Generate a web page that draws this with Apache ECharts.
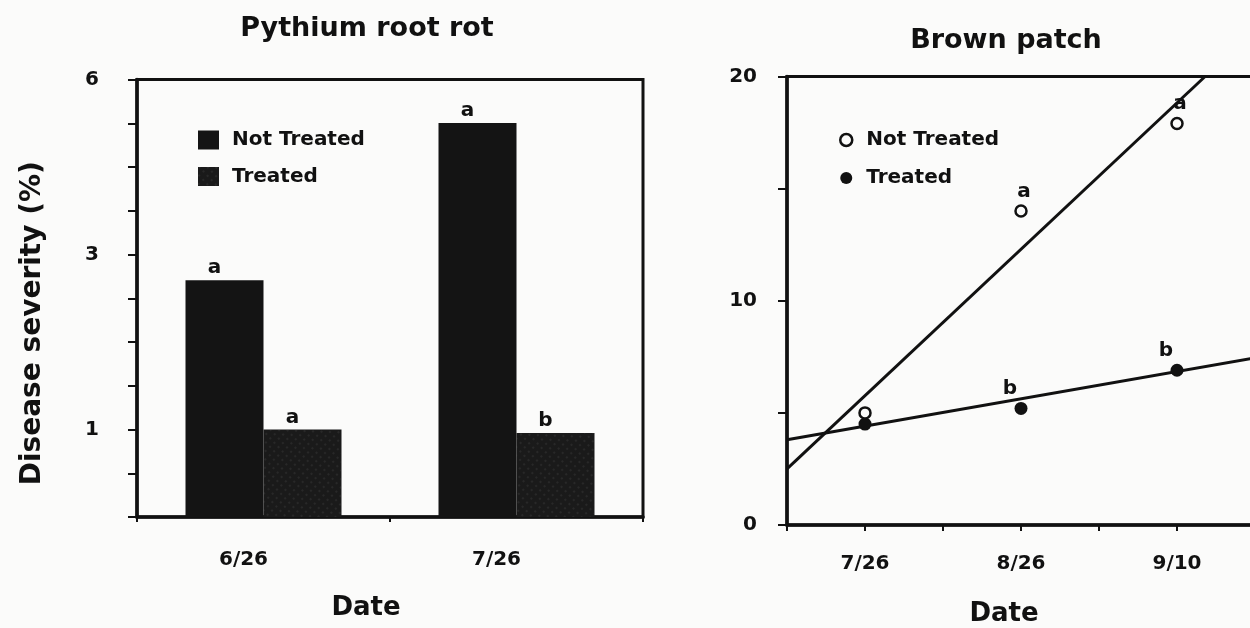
<!DOCTYPE html>
<html>
<head>
<meta charset="utf-8">
<script src="https://cdn.jsdelivr.net/npm/echarts@6/dist/echarts.min.js"></script>
<style>
  html, body { margin: 0; padding: 0; background: #fbfbfa; }
  #chart { width: 1250px; height: 628px; }
</style>
</head>
<body>
<div id="chart"></div>
<script>
// ---------- Data: Pythium root rot (bar chart, disease severity %) ----------
const pythiumDates = ['6/26', '7/26'];
const pythiumNotTreated = [2.64, 5.18];
const pythiumTreated = [1.0, 0.97];
const pythiumSigNotTreated = ['a', 'a'];
const pythiumSigTreated = ['a', 'b'];
const pythiumTickLabels = [1, 3, 6];

// ---------- Data: Brown patch (scatter + fitted lines) ----------
const brownDates = ['7/26', '8/26', '9/10'];
const brownDatePos = [1, 2, 3];
const brownNotTreated = [5.0, 14.0, 17.9];
const brownTreated = [4.5, 5.2, 6.9];
const brownSigNotTreated = ['', 'a', 'a'];
const brownSigTreated = ['', 'b', 'b'];
const brownFitNotTreated = [[0.5, 2.5], [3.18, 20]];
const brownFitTreated = [[0.5, 3.8], [3.5, 7.45]];
const brownTickLabels = [0, 10, 20];

// The Pythium axis is drawn on an arcsine-transformed scale (labels 1, 3, 6 %).
function asinDeg(p) { return Math.asin(Math.sqrt(p / 100)) * 180 / Math.PI; }
const refLo = asinDeg(1), refHi = asinDeg(3);
function toAxis(p) { return 2 + 4 * (asinDeg(p) - refLo) / (refHi - refLo); }

const FONT = 'DejaVu Sans';
const INK = '#111';
const BG = '#fbfbfa';

const chart = echarts.init(document.getElementById('chart'), null, { renderer: 'canvas' });

const boldText = (size) => ({ fontFamily: FONT, fontWeight: 'bold', fontSize: size, color: INK });

const option = {
  backgroundColor: BG,
  animation: false,
  title: [
    { text: 'Pythium root rot', left: 362, top: 10, textAlign: 'center', textStyle: boldText(27) },
    { text: 'Brown patch', left: 1001, top: 22, textAlign: 'center', textStyle: boldText(27) }
  ],
  legend: [
    {
      orient: 'vertical', left: 198, top: 130, padding: 0, itemWidth: 21, itemHeight: 19, itemGap: 16.5,
      selectedMode: false,
      data: [{ name: 'Not Treated', icon: 'rect' }, { name: 'Treated', icon: 'rect' }],
      textStyle: Object.assign(boldText(20), { padding: [0, 0, 0, 8] })
    },
    {
      orient: 'vertical', left: 839, top: 130, padding: 0, itemWidth: 12, itemHeight: 12, itemGap: 18,
      selectedMode: false,
      data: [
        { name: 'Not Treated', icon: 'circle', itemStyle: { color: BG, borderColor: INK, borderWidth: 2.5, decal: 'none' } },
        { name: 'Treated', icon: 'circle', itemStyle: { color: INK, borderWidth: 0, decal: 'none' } }
      ],
      textStyle: Object.assign(boldText(20), { padding: [0, 0, 0, 9] })
    }
  ],
  grid: [
    { left: 137, width: 506, top: 79.5, bottom: 111, outerBoundsMode: 'none', containLabel: false,
      show: true, borderColor: INK, borderWidth: 3, backgroundColor: 'transparent' },
    { left: 787, width: 468, top: 76.5, bottom: 103, outerBoundsMode: 'none', containLabel: false,
      show: true, borderColor: INK, borderWidth: 3, backgroundColor: 'transparent' }
  ],
  xAxis: [
    {
      type: 'category', gridIndex: 0, data: pythiumDates, boundaryGap: true,
      axisLine: { lineStyle: { color: INK, width: 3.5 } },
      axisTick: { show: true, length: 5, lineStyle: { color: INK, width: 2 } },
      axisLabel: Object.assign(boldText(20), { margin: 33, padding: [0, 40, 0, 0] }),
      splitLine: { show: false },
      name: 'Date', nameLocation: 'middle', nameGap: 78,
      nameTextStyle: Object.assign(boldText(26), { padding: [0, 48, 0, 0] })
    },
    {
      type: 'value', gridIndex: 1, min: 0.5, max: 3.5, interval: 0.5,
      axisLine: { onZero: false, lineStyle: { color: INK, width: 3.5 } },
      axisTick: { show: true, length: 6, lineStyle: { color: INK, width: 2 } },
      axisLabel: Object.assign(boldText(20), {
        margin: 29,
        formatter: (v) => { const i = brownDatePos.indexOf(v); return i >= 0 ? brownDates[i] : ''; }
      }),
      splitLine: { show: false },
      name: 'Date', nameLocation: 'middle', nameGap: 76,
      nameTextStyle: Object.assign(boldText(26), { padding: [0, 34, 0, 0] })
    }
  ],
  yAxis: [
    {
      type: 'value', gridIndex: 0, min: 0, max: 10, interval: 1,
      axisLine: { show: true, onZero: false, lineStyle: { color: INK, width: 3.5 } },
      axisTick: { show: true, length: 9, lineStyle: { color: INK, width: 2 } },
      axisLabel: Object.assign(boldText(20), {
        margin: 38,
        formatter: (v) => {
          const hit = pythiumTickLabels.find((t) => Math.abs(toAxis(t) - v) < 0.1);
          return hit !== undefined ? String(hit) : '';
        }
      }),
      splitLine: { show: false },
      name: 'Disease severity (%)', nameLocation: 'middle', nameGap: 90,
      nameTextStyle: Object.assign(boldText(28), { padding: [0, 50, 0, 0] })
    },
    {
      type: 'value', gridIndex: 1, min: 0, max: 20, interval: 5,
      axisLine: { show: true, onZero: false, lineStyle: { color: INK, width: 3.5 } },
      axisTick: { show: true, length: 9, lineStyle: { color: INK, width: 2 } },
      axisLabel: Object.assign(boldText(20), {
        margin: 30,
        formatter: (v) => (brownTickLabels.indexOf(v) >= 0 ? String(v) : '')
      }),
      splitLine: { show: false }
    }
  ],
  series: [
    {
      name: 'Not Treated', type: 'bar', xAxisIndex: 0, yAxisIndex: 0,
      data: pythiumNotTreated.map(toAxis),
      barWidth: 78, barGap: '0%',
      itemStyle: { color: '#141414' },
      label: Object.assign(boldText(20), {
        show: true, position: 'top', distance: 2, offset: [-10, 0],
        formatter: (p) => pythiumSigNotTreated[p.dataIndex]
      })
    },
    {
      name: 'Treated', type: 'bar', xAxisIndex: 0, yAxisIndex: 0,
      data: pythiumTreated.map(toAxis),
      barWidth: 78, barGap: '0%',
      itemStyle: {
        color: '#1a1a1a',
        decal: {
          symbol: 'rect', symbolSize: 0.5, color: 'rgba(150,150,150,0.45)',
          dashArrayX: [[2, 4]], dashArrayY: [2, 4], rotation: -0.75
        }
      },
      label: Object.assign(boldText(20), {
        show: true, position: 'top', distance: 2, offset: [-10, 0],
        formatter: (p) => pythiumSigTreated[p.dataIndex]
      })
    },
    {
      name: 'fitNotTreated', type: 'line', xAxisIndex: 1, yAxisIndex: 1,
      data: brownFitNotTreated, symbol: 'none', clip: true, silent: true,
      lineStyle: { color: INK, width: 3 }, z: 2
    },
    {
      name: 'fitTreated', type: 'line', xAxisIndex: 1, yAxisIndex: 1,
      data: brownFitTreated, symbol: 'none', clip: true, silent: true,
      lineStyle: { color: INK, width: 3 }, z: 2
    },
    {
      name: 'Treated', type: 'scatter', xAxisIndex: 1, yAxisIndex: 1,
      data: brownDatePos.map((x, i) => [x, brownTreated[i]]),
      symbol: 'circle', symbolSize: 13,
      itemStyle: { color: INK, opacity: 1 },
      label: Object.assign(boldText(20), {
        show: true, position: 'top', distance: 3, offset: [-11, 0],
        formatter: (p) => brownSigTreated[p.dataIndex]
      }),
      z: 4
    },
    {
      name: 'Not Treated', type: 'scatter', xAxisIndex: 1, yAxisIndex: 1,
      data: brownDatePos.map((x, i) => [x, brownNotTreated[i]]),
      symbol: 'circle', symbolSize: 11,
      itemStyle: { color: BG, borderColor: INK, borderWidth: 2.5, opacity: 1 },
      label: Object.assign(boldText(20), {
        show: true, position: 'top', distance: 3, offset: [3, 0],
        formatter: (p) => brownSigNotTreated[p.dataIndex]
      }),
      z: 5
    }
  ]
};

chart.setOption(option);
</script>
</body>
</html>
